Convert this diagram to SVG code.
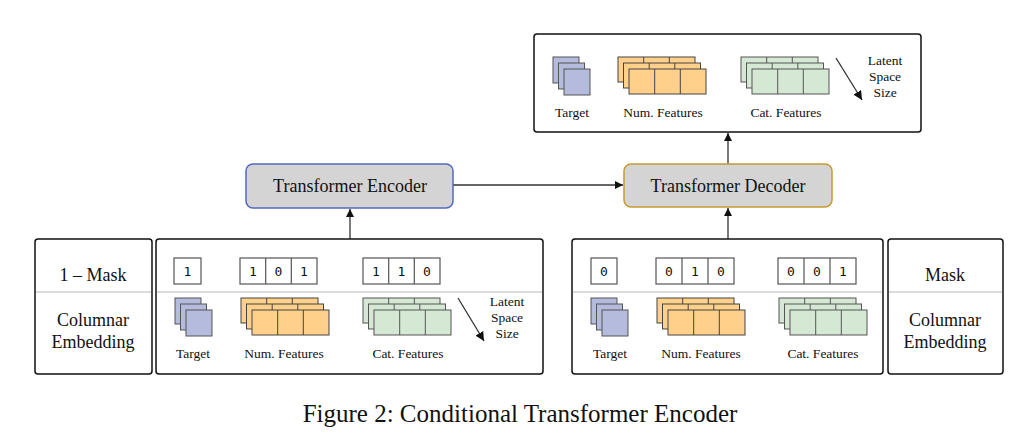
<svg xmlns="http://www.w3.org/2000/svg" xmlns:xlink="http://www.w3.org/1999/xlink" width="1036" height="444" viewBox="0 0 1036 444">
<style>
.panel{fill:#fff;stroke:#111;stroke-width:1.5}
.div{stroke:#b8b8b8;stroke-width:1.2}
.t{font-family:"Liberation Serif","Times New Roman",serif;fill:#111;text-anchor:middle}
.big{font-size:18px}
.sm{font-size:13.5px}
.cap{font-size:25px}
.mono{font-family:"DejaVu Sans Mono","Liberation Mono",monospace;font-size:13px;fill:#111;text-anchor:middle}
.cell{fill:#fff;stroke:#555;stroke-width:1.2}
.tg{fill:#B4BBDD;stroke:#555;stroke-width:1}
.nm{fill:#FFD08A;stroke:#444;stroke-width:1}
.ct{fill:#D5E8D4;stroke:#555;stroke-width:1}
.conn{stroke:#333;stroke-width:1.3;fill:none}
</style>
<defs>
<marker id="ah" viewBox="0 0 10 10" refX="10" refY="5" markerWidth="8" markerHeight="8" markerUnits="userSpaceOnUse" orient="auto">
<path d="M0,0 L10,5 L0,10 z" fill="#111"/>
</marker>
<marker id="ahb" viewBox="0 0 10 10" refX="10" refY="5" markerWidth="9" markerHeight="9" markerUnits="userSpaceOnUse" orient="auto">
<path d="M0,0 L10,5 L0,10 z" fill="#111"/>
</marker>
<g id="tgS">
<rect x="0" y="0" width="26" height="26" class="tg"/>
<rect x="5.5" y="6" width="26" height="26" class="tg"/>
<rect x="11" y="12" width="26" height="26" class="tg"/>
</g>
<g id="numL"><rect width="77" height="25" class="nm"/><path d="M25.7,0V25M51.3,0V25" stroke="#444" stroke-width="1"/></g>
<g id="catL"><rect width="77" height="25" class="ct"/><path d="M25.7,0V25M51.3,0V25" stroke="#555" stroke-width="1"/></g>
<g id="numS"><use xlink:href="#numL"/><use xlink:href="#numL" x="5.5" y="6"/><use xlink:href="#numL" x="11" y="12"/></g>
<g id="catS"><use xlink:href="#catL"/><use xlink:href="#catL" x="5.5" y="6"/><use xlink:href="#catL" x="11" y="12"/></g>
</defs>
<rect width="1036" height="444" fill="#fff"/>

<g id="connectors">
<line x1="350" y1="239" x2="350" y2="209" class="conn" marker-end="url(#ah)"/>
<line x1="453" y1="185" x2="623" y2="185" class="conn" marker-end="url(#ah)"/>
<line x1="728" y1="239" x2="728" y2="208" class="conn" marker-end="url(#ah)"/>
<line x1="728" y1="164" x2="728" y2="133" class="conn" marker-end="url(#ah)"/>
</g>

<g id="output-embedding">
<rect x="534" y="34" width="387" height="98" rx="3" class="panel"/>
<use xlink:href="#tgS" x="553" y="57"/>
<use xlink:href="#numS" x="618" y="57"/>
<use xlink:href="#catS" x="741" y="57"/>
<line x1="836" y1="58" x2="862" y2="100" class="conn" stroke="#111" marker-end="url(#ahb)"/>
<text class="t sm" x="885" y="65">Latent</text>
<text class="t sm" x="885" y="81">Space</text>
<text class="t sm" x="885" y="97">Size</text>
<text class="t sm" x="572" y="117">Target</text>
<text class="t sm" x="663" y="117">Num. Features</text>
<text class="t sm" x="786" y="117">Cat. Features</text>
</g>

<g id="encoder">
<rect x="246" y="164" width="207" height="44" rx="7" fill="#D4D4D4" stroke="#5568C0" stroke-width="1.5"/>
<text class="t big" x="350" y="192">Transformer Encoder</text>
</g>

<g id="decoder">
<rect x="624" y="164" width="208" height="43" rx="7" fill="#D4D4D4" stroke="#C99A2E" stroke-width="1.5"/>
<text class="t big" x="728" y="192">Transformer Decoder</text>
</g>

<g id="left-legend">
<rect x="35" y="239" width="117" height="135" rx="3" class="panel"/>
<line x1="36" y1="292" x2="151" y2="292" class="div"/>
<text class="t big" x="93" y="281">1 – Mask</text>
<text class="t big" x="93" y="326">Columnar</text>
<text class="t big" x="93" y="348">Embedding</text>
</g>

<g id="encoder-input">
<rect x="156" y="239" width="387" height="135" rx="3" class="panel"/>
<line x1="157" y1="292" x2="542" y2="292" class="div"/>
<rect x="174" y="258" width="27" height="26" class="cell"/>
<text class="mono" x="187.5" y="276">1</text>
<rect x="240" y="258" width="77" height="26" class="cell"/>
<path d="M265.7,258V284M291.3,258V284" stroke="#555" stroke-width="1.2"/>
<text class="mono" x="253" y="276">1</text><text class="mono" x="278.5" y="276">0</text><text class="mono" x="304" y="276">1</text>
<rect x="363" y="258" width="77" height="26" class="cell"/>
<path d="M388.7,258V284M414.3,258V284" stroke="#555" stroke-width="1.2"/>
<text class="mono" x="376" y="276">1</text><text class="mono" x="401.5" y="276">1</text><text class="mono" x="427" y="276">0</text>
<use xlink:href="#tgS" x="175" y="298"/>
<use xlink:href="#numS" x="241" y="298"/>
<use xlink:href="#catS" x="363" y="298"/>
<line x1="458" y1="298" x2="484" y2="341" class="conn" stroke="#111" marker-end="url(#ahb)"/>
<text class="t sm" x="507" y="306">Latent</text>
<text class="t sm" x="507" y="322">Space</text>
<text class="t sm" x="507" y="338">Size</text>
<text class="t sm" x="193" y="358">Target</text>
<text class="t sm" x="284" y="358">Num. Features</text>
<text class="t sm" x="408" y="358">Cat. Features</text>
</g>

<g id="decoder-input">
<rect x="572" y="239" width="311" height="135" rx="3" class="panel"/>
<line x1="573" y1="292" x2="882" y2="292" class="div"/>
<rect x="591" y="258" width="26" height="26" class="cell"/>
<text class="mono" x="604" y="276">0</text>
<rect x="656" y="258" width="78" height="26" class="cell"/>
<path d="M682,258V284M708,258V284" stroke="#555" stroke-width="1.2"/>
<text class="mono" x="669" y="276">0</text><text class="mono" x="695" y="276">1</text><text class="mono" x="721" y="276">0</text>
<rect x="778" y="258" width="78" height="26" class="cell"/>
<path d="M804,258V284M830,258V284" stroke="#555" stroke-width="1.2"/>
<text class="mono" x="791" y="276">0</text><text class="mono" x="817" y="276">0</text><text class="mono" x="843" y="276">1</text>
<use xlink:href="#tgS" x="591" y="298"/>
<use xlink:href="#numS" x="657" y="298"/>
<use xlink:href="#catS" x="779" y="298"/>
<text class="t sm" x="610" y="358">Target</text>
<text class="t sm" x="701" y="358">Num. Features</text>
<text class="t sm" x="823" y="358">Cat. Features</text>
</g>

<g id="right-legend">
<rect x="888" y="239" width="115" height="135" rx="3" class="panel"/>
<line x1="889" y1="292" x2="1002" y2="292" class="div"/>
<text class="t big" x="945" y="281">Mask</text>
<text class="t big" x="945" y="326">Columnar</text>
<text class="t big" x="945" y="348">Embedding</text>
</g>

<text class="t cap" x="520" y="422">Figure 2: Conditional Transformer Encoder</text>
</svg>
